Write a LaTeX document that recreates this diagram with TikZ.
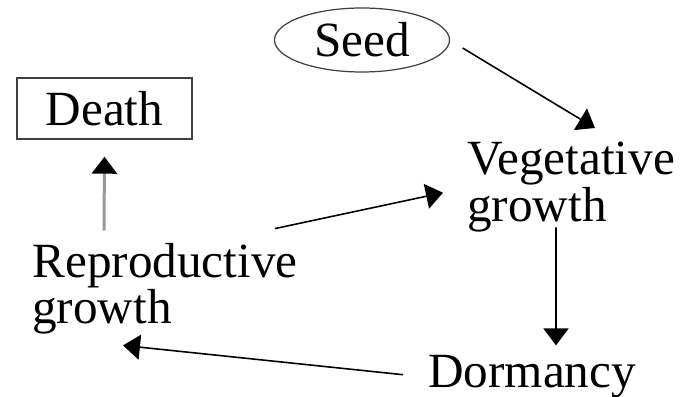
\documentclass[tikz,border=0pt]{standalone}
\usepackage{fontspec}
\setmainfont{Liberation Serif}
\usepackage{tikz}
\usetikzlibrary{shapes.geometric, arrows.meta, positioning}

\begin{document}
\begin{tikzpicture}[
  font=\fontsize{28}{24.5}\selectfont,
  stage/.style={inner sep=0pt, align=left},
  startnode/.style={draw=black!75, line width=0.7pt, ellipse, minimum width=3.5cm, minimum height=1.28cm, inner sep=0pt},
  endnode/.style={draw=black!75, line width=0.8pt, minimum width=3.5cm, minimum height=1.22cm, inner sep=0pt},
  arr/.style={line width=0.9pt, -{Triangle[length=3.4mm, width=5mm]}},
  grayarr/.style={draw=black!40, line width=1.7pt, -{Triangle[length=3.4mm, width=5mm, color=black]}}
]
\useasboundingbox (0,0) rectangle (13.7,7.94);
\node[startnode] (seed) at (7.24,7.14) {Seed};
\node[endnode] (death) at (2.09,5.77) {Death};
\node[stage, anchor=north west] (veg) at (9.34,5.10) {Vegetative\\growth};
\node[stage, anchor=west] (repro) at (0.64,2.16) {Reproductive\\growth};
\node[stage, anchor=base west] (dorm) at (8.56,0.18) {Dormancy};
\draw[arr] ([shift={(0.25,-0.16)}]seed.east) -- ([shift={(2.56,0.28)}]veg.north west);
\draw[arr] ([shift={(1.78,0.1)}]veg.south west) -- ([shift={(2.56,0.2)}]dorm.north west);
\draw[arr] ([shift={(-0.5,0.05)}]dorm.west) -- ([shift={(1.82,-0.21)}]repro.south west);
\draw[arr] ([shift={(4.86,0.29)}]repro.north west) -- ([shift={(-0.48,-0.11)}]veg.west);
\draw[grayarr] ([shift={(1.44,0.25)}]repro.north west) -- ([yshift=-0.34cm]death.south);
\end{tikzpicture}
\end{document}
